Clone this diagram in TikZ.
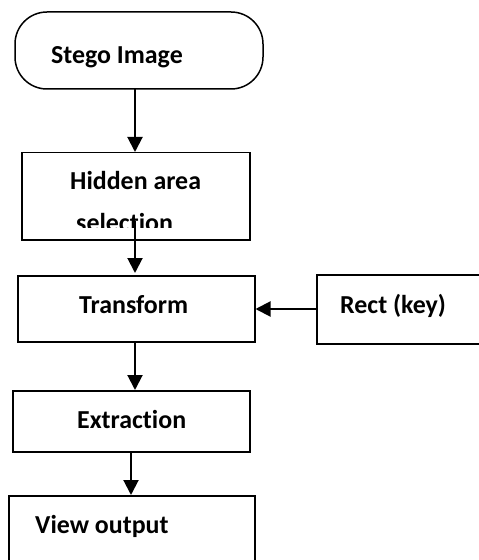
\documentclass[tikz,border=0pt]{standalone}
\usepackage{fontspec}
\setmainfont[Ligatures=NoCommon]{Carlito}
\usetikzlibrary{arrows.meta}
\begin{document}
\begin{tikzpicture}[x=1bp,y=-1bp,
  box/.style={draw=black,line width=1.5bp,inner sep=0pt},
  lbl/.style={anchor=base west,inner sep=0pt,font=\fontsize{26}{30}\selectfont\bfseries},
  arr/.style={line width=2bp,-{Triangle[width=15bp,length=15bp]}}]
\useasboundingbox (0,0) rectangle (479,560);
\clip (0,0) rectangle (479,560);
% boxes
\draw[box,rounded corners=32bp] (15,12) rectangle (263,89);
\coordinate (stegoB) at (135,89);
\node[box,minimum width=228bp,minimum height=87bp,anchor=north west] (hidden) at (21,152) {};
\node[box,minimum width=237bp,minimum height=66bp,anchor=north west] (transform) at (17,275) {};
\node[box,minimum width=200bp,minimum height=69bp,anchor=north west] (rect) at (316,274) {};
\node[box,minimum width=237bp,minimum height=61bp,anchor=north west] (extraction) at (12,390) {};
\node[box,minimum width=246bp,minimum height=100bp,anchor=north west] (view) at (8,495) {};
% texts
\node[lbl] (stegoT) at (51,64) {Stego Image};
\node[lbl] (hiddenT) at (70,190) {Hidden area};
\begin{scope}
\clip (21,152) rectangle (249,227);
\node[lbl] (selT) at (76,231) {selection};
\end{scope}
\node[lbl] (transT) at (79,313) {Transform};
\node[lbl] (rectT) at (340,313) {Rect (key)};
\node[lbl] (extrT) at (77,428) {Extraction};
\node[lbl] (viewT) at (35,533) {View output};
% connectors
\coordinate (hidStart) at (135,221);
\coordinate (transTop) at (135,273);
\draw[arr] (stegoB) -- (hidden.north -| stegoB);
\draw[arr] (hidStart) -- (transTop);
\draw[arr] (rect.west |- 0,309) -- (transform.east |- 0,309);
\draw[arr] (135,341) -- (135,390);
\draw[arr] (131,451) -- (131,495);
\end{tikzpicture}
\end{document}
